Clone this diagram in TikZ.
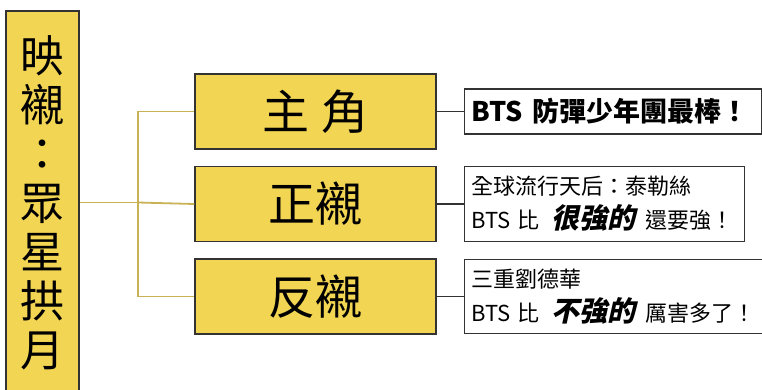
\documentclass[tikz,border=0pt]{standalone}
\usepackage{fontspec}
\setmainfont{Noto Sans CJK TC}
\newfontfamily\slantcjk[FakeSlant=0.22]{Noto Sans CJK TC}
\usetikzlibrary{positioning,calc}
\definecolor{boxyellow}{RGB}{242,213,82}
\definecolor{linegold}{RGB}{201,178,84}
\definecolor{edgegray}{RGB}{51,51,51}

\begin{document}
\begin{tikzpicture}
  [x=1pt,y=1pt,
   titleN/.style={draw=edgegray,fill=boxyellow,line width=1.5pt,align=center,
     minimum width=73pt,minimum height=383pt,inner sep=0pt,
     font=\fontsize{44}{49}\selectfont},
   roleN/.style={draw=edgegray,fill=boxyellow,line width=1.5pt,
     minimum width=241pt,minimum height=75pt,inner sep=0pt,
     font=\fontsize{47}{50}\selectfont},
   noteN/.style={draw=edgegray,fill=white,line width=1.3pt,align=left,
     inner xsep=7pt,inner ysep=0pt,font=\fontsize{22}{34}\selectfont},
   goldL/.style={draw=linegold,line width=1.8pt},
   node distance=16pt]

  \useasboundingbox (0,0) rectangle (762,389);

  \path (42.5,186.5) node[titleN] (title) {映\\襯\\：\\眾\\星\\拱\\月};

  \node[roleN] (lead) at (315.5,277.5) {主\hspace{.25em}角};
  \node[roleN] (foil) [below=of lead] {正襯};
  \node[roleN] (contrast) [below=of foil] {反襯};

  \node[noteN,text width=283pt,minimum height=45pt,
        font=\fontsize{27}{34}\selectfont\bfseries]
        (best) [right=27pt of lead] {BTS 防彈少年團最棒！};
  \node[noteN,text width=266pt,minimum height=75pt]
        (queen) [right=27pt of foil]
        {全球流行天后：泰勒絲\\BTS 比\hspace{12pt}{\slantcjk\bfseries\fontsize{28}{34}\selectfont 很強的}\hspace{10pt}還要強！};
  \node[noteN,text width=296pt,minimum height=74pt]
        (uncle) [right=27pt of contrast]
        {三重劉德華\\BTS 比\hspace{12pt}{\slantcjk\bfseries\fontsize{28}{34}\selectfont 不強的}\hspace{10pt}厲害多了！};

  \coordinate (fork) at (138,186.5);
  \draw[goldL] (title.east) -- (fork);
  \draw[goldL] (lead.west) -| (fork) |- (contrast.west);
  \draw[goldL] (fork) -- (foil.west);

  \draw[edgegray,line width=1.3pt] (lead) -- (best);
  \draw[edgegray,line width=1.3pt] (foil) -- (queen);
  \draw[edgegray,line width=1.3pt] (contrast) -- (uncle);
\end{tikzpicture}
\end{document}
